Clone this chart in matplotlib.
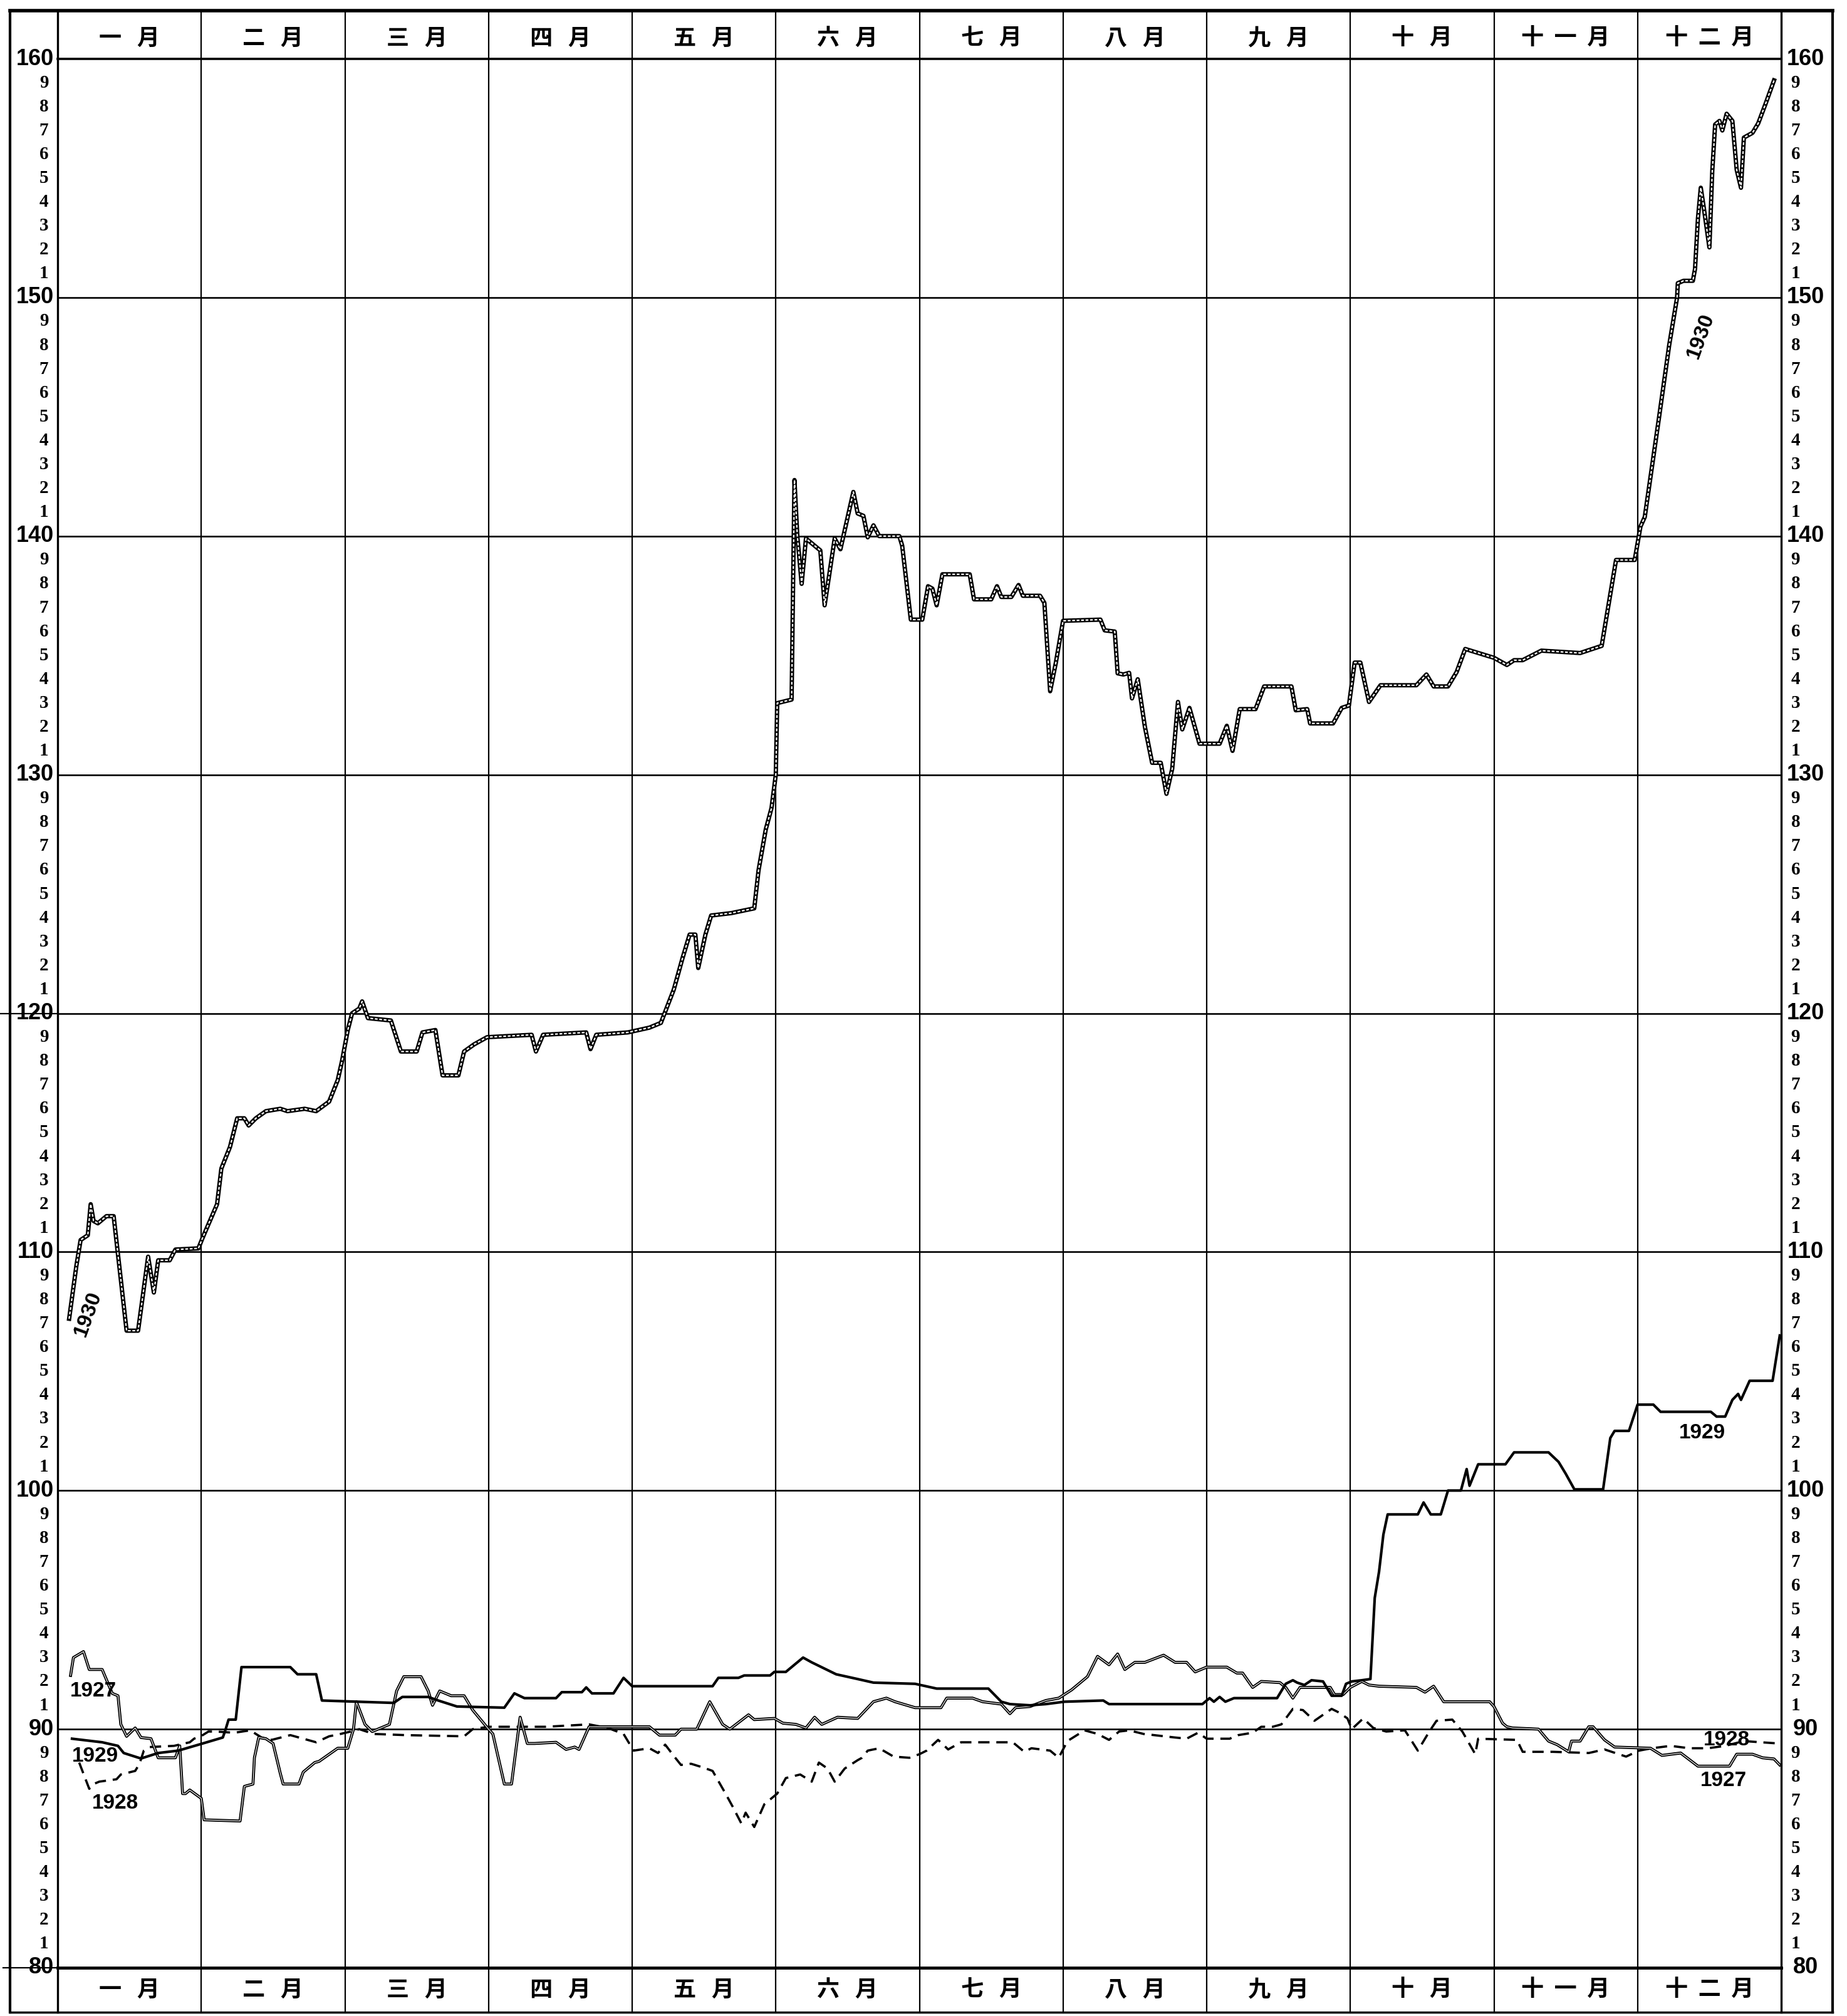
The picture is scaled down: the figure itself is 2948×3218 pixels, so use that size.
import matplotlib
matplotlib.use('Agg')
import matplotlib.pyplot as plt
from matplotlib.lines import Line2D

# Размер картинки в пикселях (dpi = 100)
W_PX = 2948
H_PX = 3218

MONTHS = ['一   月', '二   月', '三   月', '四   月', '五   月', '六   月',
          '七   月', '八   月', '九   月', '十   月', '十  一  月', '十  二  月']
Y_MAJOR = [80, 90, 100, 110, 120, 130, 140, 150, 160]
Y_MINOR = ['1', '2', '3', '4', '5', '6', '7', '8', '9']

# Ось x: месяцы (0 = начало января, 12 = конец декабря)
X_1930 = [0.08, 0.13, 0.16, 0.21, 0.23, 0.25, 0.28, 0.34, 0.39, 0.48, 0.56, 0.63,
          0.67, 0.70, 0.78, 0.82, 0.98, 1.01, 1.11, 1.14, 1.20, 1.25, 1.30, 1.33,
          1.38, 1.45, 1.55, 1.60, 1.72, 1.80, 1.89, 1.95, 1.98, 2.02, 2.05, 2.10,
          2.12, 2.16, 2.32, 2.39, 2.50, 2.54, 2.63, 2.68, 2.79, 2.83, 2.90, 2.99,
          3.30, 3.33, 3.38, 3.68, 3.71, 3.75, 3.97, 4.12, 4.20, 4.29, 4.35, 4.40,
          4.44, 4.46, 4.51, 4.55, 4.69, 4.85, 4.88, 4.93, 4.97, 5.00, 5.01, 5.11,
          5.13, 5.15, 5.18, 5.21, 5.31, 5.34, 5.41, 5.45, 5.54, 5.57, 5.61, 5.64,
          5.68, 5.72, 5.86, 5.88, 5.94, 6.02, 6.06, 6.09, 6.12, 6.16, 6.35, 6.38,
          6.50, 6.54, 6.57, 6.64, 6.69, 6.72, 6.84, 6.87, 6.91, 6.95, 7.00, 7.26,
          7.29, 7.36, 7.38, 7.42, 7.46, 7.48, 7.52, 7.57, 7.62, 7.68, 7.72, 7.76,
          7.80, 7.83, 7.88, 7.95, 8.09, 8.14, 8.18, 8.23, 8.34, 8.40, 8.59, 8.62,
          8.70, 8.72, 8.88, 8.94, 8.99, 9.03, 9.07, 9.13, 9.21, 9.46, 9.53, 9.58,
          9.68, 9.74, 9.80, 10.00, 10.09, 10.14, 10.20, 10.33, 10.60, 10.75, 10.85, 10.98,
          11.02, 11.05, 11.15, 11.22, 11.275, 11.28, 11.32, 11.385, 11.40, 11.42, 11.44, 11.46,
          11.50, 11.52, 11.54, 11.57, 11.59, 11.62, 11.66, 11.69, 11.72, 11.74, 11.80, 11.84,
          11.89, 11.95]
Y_1930 = [107.2, 109.4, 110.5, 110.7, 112.0, 111.3, 111.2, 111.5, 111.5, 106.7, 106.7, 109.8,
          108.3, 109.65, 109.65, 110.1, 110.15, 110.6, 112.0, 113.5, 114.4, 115.6, 115.6, 115.3,
          115.6, 115.9, 116.0, 115.9, 116.0, 115.9, 116.3, 117.2, 118.0, 119.3, 120.0, 120.2,
          120.5, 119.8, 119.7, 118.4, 118.4, 119.2, 119.3, 117.4, 117.4, 118.4, 118.7, 119.0,
          119.1, 118.4, 119.1, 119.2, 118.5, 119.1, 119.2, 119.4, 119.6, 121.0, 122.3, 123.3,
          123.3, 121.9, 123.3, 124.1, 124.2, 124.4, 126.0, 127.7, 128.6, 130.0, 133.0, 133.15,
          142.35, 140.0, 138.0, 139.9, 139.4, 137.1, 139.9, 139.45, 141.85, 140.95, 140.85, 139.95,
          140.45, 140.0, 140.0, 139.6, 136.5, 136.5, 137.9, 137.8, 137.1, 138.4, 138.4, 137.35,
          137.35, 137.9, 137.45, 137.45, 137.95, 137.5, 137.5, 137.2, 133.5, 134.7, 136.45, 136.5,
          136.05, 136.0, 134.25, 134.2, 134.27, 133.2, 134.0, 132.0, 130.5, 130.5, 129.2, 130.25,
          133.05, 131.9, 132.8, 131.3, 131.3, 132.05, 131.0, 132.75, 132.75, 133.7, 133.7, 132.7,
          132.75, 132.15, 132.15, 132.8, 132.9, 134.7, 134.7, 133.05, 133.75, 133.75, 134.2, 133.7,
          133.7, 134.3, 135.27, 134.9, 134.6, 134.8, 134.8, 135.2, 135.1, 135.4, 139.0, 139.0,
          140.4, 140.8, 145.0, 148.0, 150.0, 150.6, 150.7, 150.7, 151.2, 153.3, 154.6, 153.8,
          152.1, 155.3, 157.25, 157.4, 157.0, 157.7, 157.4, 155.35, 154.6, 156.7, 156.9, 157.3,
          158.1, 159.1]

X_1929 = [0.10, 0.31, 0.42, 0.46, 0.58, 0.70, 0.84, 1.01, 1.15, 1.17, 1.19, 1.24,
          1.28, 1.62, 1.67, 1.80, 1.84, 2.34, 2.40, 2.58, 2.65, 2.78, 3.11, 3.18,
          3.25, 3.47, 3.51, 3.65, 3.68, 3.72, 3.87, 3.94, 4.00, 4.56, 4.60, 4.74,
          4.78, 4.96, 4.99, 5.07, 5.19, 5.25, 5.42, 5.57, 5.68, 5.97, 6.12, 6.48,
          6.57, 6.63, 6.77, 6.88, 7.01, 7.28, 7.32, 7.97, 8.02, 8.05, 8.09, 8.13,
          8.19, 8.49, 8.55, 8.60, 8.63, 8.68, 8.73, 8.81, 8.87, 8.94, 8.97, 9.01,
          9.08, 9.14, 9.17, 9.20, 9.23, 9.26, 9.47, 9.51, 9.56, 9.63, 9.68, 9.77,
          9.81, 9.83, 9.89, 10.08, 10.14, 10.38, 10.45, 10.50, 10.56, 10.76, 10.81, 10.84,
          10.94, 11.00, 11.11, 11.16, 11.51, 11.55, 11.61, 11.66, 11.70, 11.72, 11.78, 11.94,
          11.99]
Y_1929 = [89.6, 89.45, 89.3, 89.0, 88.77, 89.0, 89.1, 89.4, 89.65, 90.0, 90.4, 90.4,
          92.6, 92.6, 92.3, 92.3, 91.2, 91.1, 91.35, 91.35, 91.2, 90.95, 90.9, 91.5,
          91.3, 91.3, 91.55, 91.55, 91.75, 91.5, 91.5, 92.15, 91.8, 91.8, 92.15, 92.15,
          92.25, 92.25, 92.4, 92.4, 93.0, 92.8, 92.3, 92.1, 91.95, 91.9, 91.7, 91.7,
          91.15, 91.05, 91.0, 91.05, 91.15, 91.2, 91.05, 91.05, 91.3, 91.15, 91.35, 91.15,
          91.3, 91.3, 91.9, 92.05, 91.95, 91.85, 92.05, 92.0, 91.4, 91.4, 91.9, 92.0,
          92.05, 92.1, 95.5, 96.6, 98.15, 99.0, 99.0, 99.5, 99.0, 99.0, 100.0, 100.0,
          100.9, 100.2, 101.1, 101.1, 101.6, 101.6, 101.2, 100.7, 100.05, 100.05, 102.2, 102.5,
          102.5, 103.6, 103.6, 103.3, 103.3, 103.1, 103.1, 103.8, 104.05, 103.8, 104.6, 104.6,
          106.5]

X_1928 = [0.15, 0.22, 0.25, 0.29, 0.41, 0.44, 0.54, 0.57, 0.60, 0.64, 0.81, 0.92,
          0.95, 1.01, 1.05, 1.10, 1.23, 1.34, 1.42, 1.49, 1.62, 1.71, 1.80, 1.89,
          1.97, 2.04, 2.10, 2.20, 2.42, 2.83, 2.89, 3.00, 3.40, 3.55, 3.70, 3.83,
          3.94, 4.01, 4.12, 4.18, 4.23, 4.30, 4.34, 4.41, 4.49, 4.56, 4.65, 4.70,
          4.76, 4.79, 4.85, 4.92, 5.01, 5.07, 5.17, 5.25, 5.30, 5.36, 5.41, 5.48,
          5.57, 5.60, 5.64, 5.72, 5.82, 5.93, 6.00, 6.05, 6.13, 6.20, 6.29, 6.65,
          6.73, 6.78, 6.91, 6.97, 7.03, 7.15, 7.24, 7.32, 7.39, 7.46, 7.56, 7.78,
          7.86, 7.94, 8.00, 8.16, 8.22, 8.32, 8.38, 8.46, 8.52, 8.60, 8.67, 8.75,
          8.87, 8.92, 8.98, 9.01, 9.09, 9.16, 9.25, 9.38, 9.47, 9.55, 9.60, 9.71,
          9.78, 9.87, 9.89, 10.16, 10.20, 10.41, 10.66, 10.77, 10.92, 11.01, 11.10, 11.23,
          11.36, 11.49, 11.61, 11.74, 11.98]
Y_1928 = [88.6, 87.5, 87.7, 87.8, 87.9, 88.1, 88.25, 88.55, 89.1, 89.25, 89.3, 89.45,
          89.6, 89.75, 89.9, 89.9, 89.85, 89.95, 89.65, 89.55, 89.75, 89.6, 89.45, 89.7,
          89.8, 89.9, 90.0, 89.8, 89.75, 89.7, 90.0, 90.1, 90.1, 90.15, 90.2, 90.05,
          89.8, 89.1, 89.2, 89.0, 89.35, 88.8, 88.5, 88.55, 88.4, 88.25, 87.3, 86.75,
          86.05, 86.5, 85.9, 86.85, 87.3, 87.95, 88.1, 87.8, 88.6, 88.35, 87.8, 88.35,
          88.7, 88.8, 89.1, 89.2, 88.85, 88.8, 88.95, 89.1, 89.55, 89.15, 89.45, 89.45,
          89.05, 89.2, 89.1, 88.8, 89.5, 89.95, 89.8, 89.55, 89.9, 89.95, 89.8, 89.65,
          89.6, 89.85, 89.6, 89.6, 89.75, 89.85, 90.1, 90.1, 90.2, 90.85, 90.8, 90.35,
          90.85, 90.7, 90.45, 90.0, 90.45, 90.05, 89.9, 89.95, 89.1, 89.9, 90.35, 90.4,
          89.9, 88.95, 89.6, 89.55, 89.05, 89.05, 89.0, 89.15, 88.85, 89.1, 89.2, 89.3,
          89.2, 89.2, 89.3, 89.5, 89.4]

X_1927 = [0.09, 0.11, 0.18, 0.22, 0.31, 0.38, 0.42, 0.44, 0.48, 0.54, 0.58, 0.65,
          0.70, 0.82, 0.85, 0.87, 0.89, 0.92, 1.00, 1.02, 1.27, 1.30, 1.36, 1.37,
          1.40, 1.45, 1.50, 1.55, 1.57, 1.68, 1.71, 1.79, 1.82, 1.95, 2.02, 2.06,
          2.08, 2.14, 2.19, 2.31, 2.36, 2.41, 2.53, 2.58, 2.61, 2.66, 2.74, 2.83,
          2.89, 3.00, 3.03, 3.11, 3.16, 3.22, 3.27, 3.32, 3.47, 3.54, 3.60, 3.63,
          3.70, 4.12, 4.19, 4.30, 4.34, 4.45, 4.54, 4.63, 4.68, 4.81, 4.85, 4.99,
          5.05, 5.14, 5.21, 5.27, 5.32, 5.43, 5.57, 5.68, 5.77, 5.83, 5.97, 6.15,
          6.19, 6.37, 6.44, 6.57, 6.63, 6.67, 6.77, 6.88, 6.97, 7.06, 7.17, 7.24,
          7.32, 7.38, 7.43, 7.50, 7.57, 7.70, 7.78, 7.86, 7.92, 8.00, 8.14, 8.21,
          8.25, 8.32, 8.38, 8.51, 8.55, 8.60, 8.65, 8.86, 8.89, 8.95, 9.00, 9.08,
          9.13, 9.20, 9.46, 9.52, 9.58, 9.65, 9.97, 10.00, 10.06, 10.09, 10.13, 10.31,
          10.38, 10.44, 10.52, 10.54, 10.60, 10.66, 10.69, 10.77, 10.84, 11.09, 11.17, 11.30,
          11.42, 11.64, 11.69, 11.80, 11.87, 11.95, 11.99]
Y_1927 = [92.25, 93.0, 93.25, 92.5, 92.5, 91.5, 91.4, 90.2, 89.7, 90.05, 89.65, 89.6,
          88.8, 88.8, 89.3, 87.3, 87.3, 87.45, 87.1, 86.2, 86.15, 87.6, 87.7, 88.8,
          89.65, 89.6, 89.4, 88.15, 87.7, 87.7, 88.2, 88.6, 88.65, 89.2, 89.2, 90.0,
          91.15, 90.2, 89.9, 90.2, 91.6, 92.2, 92.2, 91.6, 91.0, 91.6, 91.4, 91.4,
          90.8, 90.0, 89.8, 87.7, 87.7, 90.5, 89.4, 89.4, 89.45, 89.15, 89.25, 89.15,
          90.1, 90.1, 89.75, 89.75, 90.0, 90.0, 91.15, 90.2, 90.0, 90.6, 90.4, 90.45,
          90.25, 90.2, 90.05, 90.5, 90.2, 90.5, 90.45, 91.15, 91.3, 91.15, 90.9, 90.9,
          91.3, 91.3, 91.15, 91.05, 90.65, 90.9, 90.95, 91.2, 91.3, 91.65, 92.2, 93.05,
          92.7, 93.15, 92.5, 92.8, 92.8, 93.1, 92.8, 92.8, 92.4, 92.6, 92.6, 92.35,
          92.35, 91.75, 92.0, 91.95, 91.75, 91.3, 91.75, 91.75, 91.45, 91.45, 91.75, 92.0,
          91.85, 91.8, 91.75, 91.55, 91.8, 91.15, 91.15, 90.95, 90.25, 90.1, 90.05, 90.0,
          89.5, 89.35, 89.05, 89.5, 89.5, 90.1, 90.1, 89.55, 89.25, 89.2, 88.9, 89.0,
          88.45, 88.45, 88.95, 88.95, 88.8, 88.75, 88.5]

# Подписи кривых: (текст, месяц, значение, поворот)
LABELS = [('1930', 0.21, 107.4, 70), ('1930', 11.44, 148.4, 70),
          ('1929', 11.45, 102.4, 0), ('1929', 0.26, 88.85, 0),
          ('1928', 0.40, 86.9, 0), ('1927', 0.25, 91.6, 0),
          ('1928', 11.62, 89.55, 0), ('1927', 11.60, 87.85, 0)]

# Геометрия в пикселях
FRAME_L, FRAME_R = 16, 2925
FRAME_T, FRAME_B = 17, 3212
PLOT_L, PLOT_R = 92, 2843
PLOT_T, PLOT_B = 94, 3141

SANS = 'Liberation Sans'
SERIF = 'Liberation Serif'
CJK = ['Noto Sans CJK JP', 'DejaVu Sans']


def fx(px):
    return px / W_PX


def fy(px):
    return 1 - px / H_PX


def draw_frame(fig):
    # Внешняя рамка
    kw = dict(transform=fig.transFigure, color='black', solid_capstyle='projecting')
    fig.add_artist(Line2D([fx(FRAME_L), fx(FRAME_R)], [fy(FRAME_T)] * 2, lw=4.0, **kw))
    fig.add_artist(Line2D([fx(FRAME_L), fx(FRAME_R)], [fy(FRAME_B)] * 2, lw=2.5, **kw))
    fig.add_artist(Line2D([fx(FRAME_L)] * 2, [fy(FRAME_T), fy(FRAME_B)], lw=3.0, **kw))
    fig.add_artist(Line2D([fx(FRAME_R)] * 2, [fy(FRAME_T), fy(FRAME_B)], lw=3.0, **kw))


def draw_grid(ax):
    h = PLOT_B - PLOT_T
    w = PLOT_R - PLOT_L
    y_lo = -(FRAME_B - PLOT_B) / h
    y_hi = 1 + (PLOT_T - FRAME_T) / h
    # Вертикальные линии месяцев проходят через шапки
    for m in range(13):
        lw = 2.4 if m in (0, 12) else 1.6
        ax.axvline(m, ymin=y_lo, ymax=y_hi, color='black', lw=lw, clip_on=False, zorder=1)
    for v in Y_MAJOR:
        lw = 3.5 if v == 80 else (2.6 if v == 160 else 1.9)
        ax.axhline(v, color='black', lw=lw, zorder=1, clip_on=False)
    # Линии 120 и 80 выходят за левую рамку
    ax.axhline(120, xmin=-PLOT_L / w, xmax=0, color='black', lw=1.6, clip_on=False)
    ax.axhline(80, xmin=-(PLOT_L - 5) / w, xmax=0, color='black', lw=1.6, clip_on=False)


def draw_labels(ax):
    tr_y = ax.get_yaxis_transform()
    tr_x = ax.get_xaxis_transform()
    w = PLOT_R - PLOT_L
    for v in Y_MAJOR:
        ax.text((86 - PLOT_L) / w, v, str(v), transform=tr_y, ha='right', va='center',
                fontsize=26, fontweight='bold', family=SANS)
        ax.text((2882 - PLOT_L) / w, v, str(v), transform=tr_y, ha='center', va='center',
                fontsize=26, fontweight='bold', family=SANS)
    for base in Y_MAJOR[:-1]:
        for i, d in enumerate(Y_MINOR):
            v = base + i + 1
            ax.text((70 - PLOT_L) / w, v, d, transform=tr_y, ha='center', va='center',
                    fontsize=21, fontweight='bold', family=SERIF)
            ax.text((2866 - PLOT_L) / w, v, d, transform=tr_y, ha='center', va='center',
                    fontsize=21, fontweight='bold', family=SERIF)
    h = PLOT_B - PLOT_T
    for i, name in enumerate(MONTHS):
        ax.text(i + 0.5, 1 + 33 / h, name, transform=tr_x, ha='center', va='center',
                fontsize=26, fontweight='bold', family=CJK)
        ax.text(i + 0.5, -35 / h, name, transform=tr_x, ha='center', va='center',
                fontsize=26, fontweight='bold', family=CJK)


def plot_series(ax):
    # 1930 — двойная линия с перемычками
    ax.plot(X_1930, Y_1930, color='black', lw=5.0, zorder=5)
    ax.plot(X_1930, Y_1930, color='white', lw=1.6, dashes=(2.0, 1.2), zorder=6)
    # 1929 — сплошная жирная
    ax.plot(X_1929, Y_1929, color='black', lw=3.0, zorder=4)
    # 1928 — штриховая
    ax.plot(X_1928, Y_1928, color='black', lw=2.6, dashes=(5, 3), zorder=3)
    # 1927 — двойная тонкая
    ax.plot(X_1927, Y_1927, color='black', lw=3.4, zorder=3)
    ax.plot(X_1927, Y_1927, color='white', lw=0.8, zorder=3)

    for text, m, v, rot in LABELS:
        ax.text(m, v, text, ha='center', va='center', rotation=rot,
                fontsize=24, fontweight='bold', family=SANS, zorder=7)


def main():
    fig = plt.figure(figsize=(W_PX / 100, H_PX / 100), dpi=100)
    fig.patch.set_facecolor('white')
    ax = fig.add_axes([fx(PLOT_L), fy(PLOT_B), fx(PLOT_R) - fx(PLOT_L), fy(PLOT_T) - fy(PLOT_B)])
    ax.set_xlim(0, 12)
    ax.set_ylim(80, 160)
    ax.set_axis_off()

    draw_frame(fig)
    draw_grid(ax)
    draw_labels(ax)
    plot_series(ax)

    fig.savefig('out.png', dpi=100)


if __name__ == '__main__':
    main()
